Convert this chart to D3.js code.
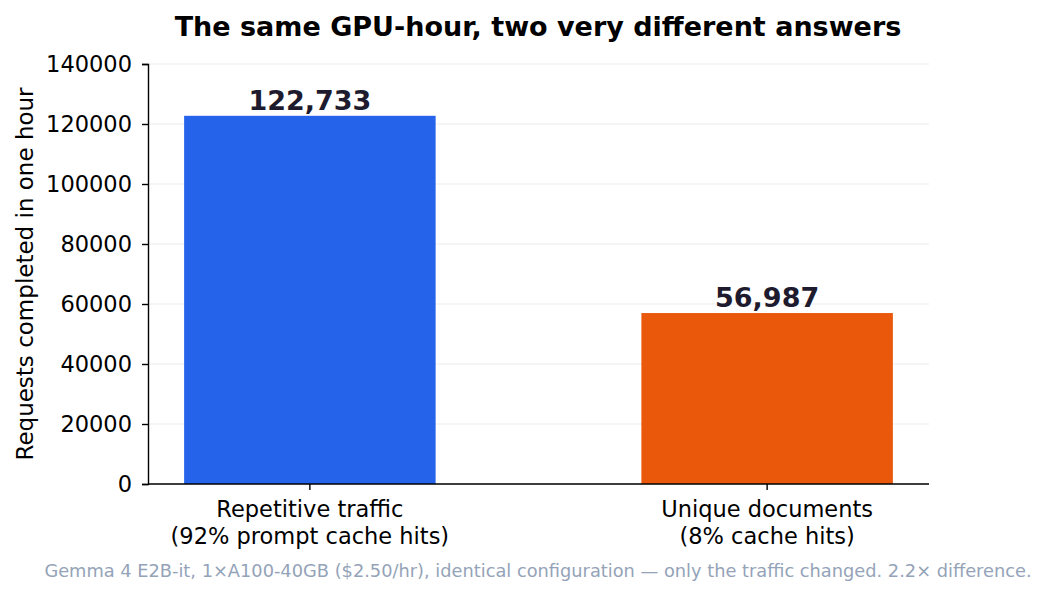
<!DOCTYPE html>
<html>
<head>
<meta charset="utf-8">
<script src="https://cdn.jsdelivr.net/npm/d3@7"></script>
<style>
    body { margin: 0; background: #fff; }
    text { font-family: "DejaVu Sans", sans-serif; }
</style>
</head>
<body>
<div id="chart"></div>
<script>
// data
const categories = ["Repetitive traffic\n(92% prompt cache hits)", "Unique documents\n(8% cache hits)"];
const requests = [122733, 56987];
const barColors = ["#2563eb", "#ea580c"];
const yTicks = [0, 20000, 40000, 60000, 80000, 100000, 120000, 140000];

// draw
{
    let width = 1046,
        height = 596,
        margin = { top: 64, right: 117, bottom: 112, left: 148 },
        bar_w = 0.55;

    let svg = d3.select("#chart").append("svg")
        .attr("width", width)
        .attr("height", height);

    let x = d3.scaleLinear()
        .domain([-0.354, categories.length - 1 + 0.354])
        .range([margin.left, width - margin.right]);
    let y = d3.scaleLinear()
        .domain([0, 140000])
        .range([height - margin.bottom, margin.top]);

    // grid
    svg.selectAll(".grid")
        .data(yTicks)
        .enter()
        .append("line")
        .attr("x1", margin.left)
        .attr("x2", width - margin.right)
        .attr("y1", d => y(d))
        .attr("y2", d => y(d))
        .attr("stroke", "#ebebeb")
        .attr("stroke-width", 1.2);

    // bars
    svg.selectAll(".bar")
        .data(requests)
        .enter()
        .append("rect")
        .attr("x", (d, i) => x(i - bar_w / 2))
        .attr("y", d => y(d))
        .attr("width", (d, i) => x(i + bar_w / 2) - x(i - bar_w / 2))
        .attr("height", d => y(0) - y(d))
        .attr("fill", (d, i) => barColors[i]);

    // value labels
    svg.selectAll(".val")
        .data(requests)
        .enter()
        .append("text")
        .attr("x", (d, i) => x(i))
        .attr("y", d => y(d) - 6)
        .attr("text-anchor", "middle")
        .attr("font-size", 27)
        .attr("font-weight", "bold")
        .attr("fill", "#1e1b2e")
        .text(d => d3.format(",")(d));

    // y axis
    let yAxis = svg.append("g")
        .attr("transform", "translate(" + margin.left + ",0)")
        .call(d3.axisLeft(y).tickValues(yTicks).tickFormat(d3.format("d")).tickSize(6).tickPadding(10));
    yAxis.selectAll("text").attr("font-size", 22.5).attr("fill", "#000")
        .style("font-family", "DejaVu Sans");
    yAxis.select(".domain").attr("stroke", "#000").attr("stroke-width", 1.4);
    yAxis.selectAll(".tick line").attr("stroke", "#000").attr("stroke-width", 1.4);

    // x axis
    let xAxis = svg.append("g")
        .attr("transform", "translate(0," + y(0) + ")");
    xAxis.append("line")
        .attr("x1", margin.left)
        .attr("x2", width - margin.right)
        .attr("stroke", "#000")
        .attr("stroke-width", 1.4);
    categories.forEach(function(c, i) {
        xAxis.append("line")
            .attr("x1", x(i)).attr("x2", x(i))
            .attr("y1", 0).attr("y2", 6)
            .attr("stroke", "#000")
            .attr("stroke-width", 1.4);
        let t = xAxis.append("text")
            .attr("x", x(i))
            .attr("y", 33)
            .attr("text-anchor", "middle")
            .attr("font-size", 22.5)
            .attr("fill", "#000");
        c.split("\n").forEach(function(line, k) {
            t.append("tspan")
                .attr("x", x(i))
                .attr("dy", k == 0 ? 0 : 26.5)
                .text(line);
        });
    });

    // y label
    svg.append("text")
        .attr("transform", "translate(33," + ((margin.top + height - margin.bottom) / 2) + ") rotate(-90)")
        .attr("text-anchor", "middle")
        .attr("font-size", 23)
        .attr("fill", "#000")
        .text("Requests completed in one hour");

    // title
    svg.append("text")
        .attr("x", 538)
        .attr("y", 36)
        .attr("text-anchor", "middle")
        .attr("font-size", 27)
        .attr("font-weight", "bold")
        .attr("fill", "#000")
        .text("The same GPU-hour, two very different answers");

    // footnote
    svg.append("text")
        .attr("x", 538)
        .attr("y", 577)
        .attr("text-anchor", "middle")
        .attr("font-size", 17.8)
        .attr("fill", "#94a3b8")
        .text("Gemma 4 E2B-it, 1\u00d7A100-40GB ($2.50/hr), identical configuration \u2014 only the traffic changed. 2.2\u00d7 difference.");
}
</script>
</body>
</html>
